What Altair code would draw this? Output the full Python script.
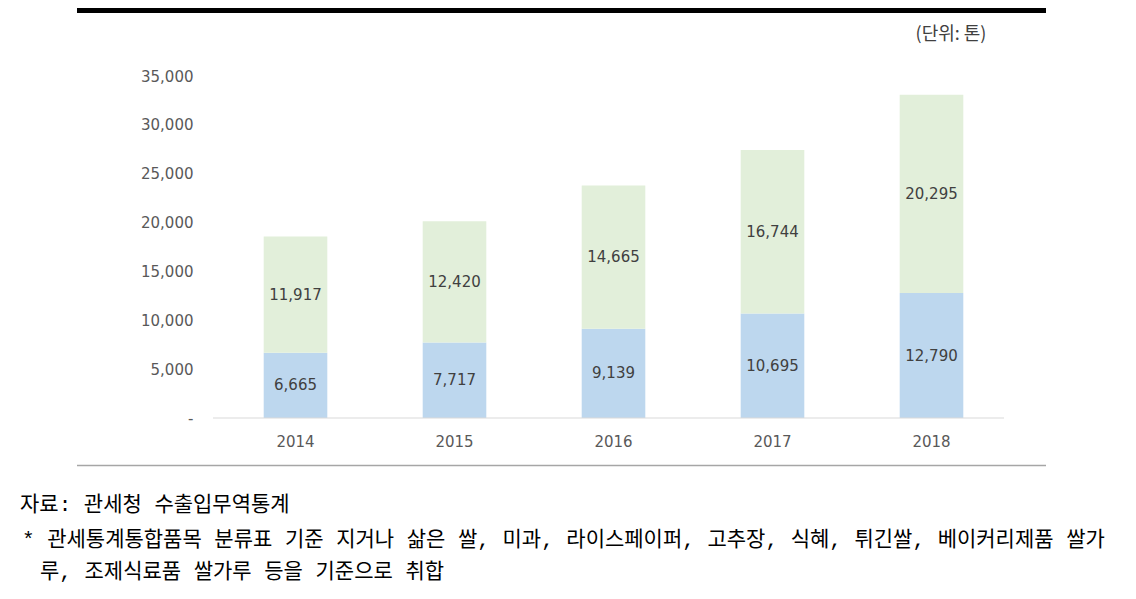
import altair as alt
import pandas as pd

years = ["2014", "2015", "2016", "2017", "2018"]
lower_values = [6665, 7717, 9139, 10695, 12790]
upper_values = [11917, 12420, 14665, 16744, 20295]
series_names = ["하단", "상단"]
series_colors = ["#BDD7EE", "#E2EFDA"]
y_ticks = [0, 5000, 10000, 15000, 20000, 25000, 30000, 35000]

unit_label = "(단위: 톤)"
notes = [
    "자료: 관세청 수출입무역통계",
    "* 관세통계통합품목 분류표 기준 지거나 삶은 쌀, 미과, 라이스페이퍼, 고추장, 식혜, 튀긴쌀, 베이커리제품 쌀가",
    "루, 조제식료품 쌀가루 등을 기준으로 취합",
]

rows = []
for i, y in enumerate(years):
    rows.append({"year": y, "series": series_names[0], "order": 0, "value": lower_values[i]})
    rows.append({"year": y, "series": series_names[1], "order": 1, "value": upper_values[i]})
df = pd.DataFrame(rows)

NUM_FONT = "DejaVu Sans"
KR_FONT = "Noto Sans CJK KR"
NOTE_FONT = "Liberation Mono, Noto Sans CJK KR"
W, H = 795, 342

base = alt.Chart(df).transform_stack(
    stack="value", groupby=["year"], as_=["y0", "y1"], sort=[alt.SortField("order")]
).transform_calculate(mid="(datum.y0 + datum.y1) / 2", lbl="format(datum.value, ',')")

x_enc = alt.X("year:N", sort=years, title=None,
              scale=alt.Scale(paddingInner=0.6, paddingOuter=0.3),
              axis=alt.Axis(labelAngle=0, labelFont=NUM_FONT, labelFontSize=15, labelColor="#595959",
                            labelPadding=16, ticks=False, domain=False, grid=False))
y_scale = alt.Scale(domain=[0, 35000], nice=False)

bars = base.mark_bar().encode(
    x=x_enc,
    y=alt.Y("y1:Q", scale=y_scale, title=None,
            axis=alt.Axis(values=y_ticks, labelExpr="datum.value == 0 ? '-' : format(datum.value, ',')",
                          labelFont=NUM_FONT, labelFontSize=15, labelColor="#595959", labelPadding=23,
                          ticks=False, domain=False, grid=False)),
    y2="y0:Q",
    color=alt.Color("series:N", scale=alt.Scale(domain=series_names, range=series_colors), legend=None),
)

labels = base.mark_text(font=NUM_FONT, fontSize=15, color="#404040").encode(
    x=alt.X("year:N", sort=years),
    y=alt.Y("mid:Q", scale=y_scale),
    text="lbl:N",
)

baseline = alt.Chart(pd.DataFrame({"v": [0]})).mark_rule(color="#D9D9D9", strokeWidth=1.2).encode(
    x=alt.value(-3), x2=alt.value(788), y=alt.Y("v:Q", scale=y_scale)
)

top_rule = alt.Chart(pd.DataFrame({"v": [0]})).mark_rule(color="#000000", strokeWidth=5).encode(
    x=alt.value(-139), x2=alt.value(830), y=alt.value(-65.5)
)
bottom_rule = alt.Chart(pd.DataFrame({"v": [0]})).mark_rule(color="#A6A6A6", strokeWidth=1.5).encode(
    x=alt.value(-139), x2=alt.value(830), y=alt.value(389.5)
)

unit = alt.Chart(pd.DataFrame({"t": [unit_label]})).mark_text(
    font=KR_FONT, fontSize=18, color="#404040", align="center", baseline="middle"
).encode(x=alt.value(735), y=alt.value(-41), text="t:N")

note_df = pd.DataFrame({"t": notes, "px": [-196, -194, -176], "py": [429, 464, 496]})
note_layer = alt.Chart(note_df).mark_text(
    font=NOTE_FONT, fontSize=21, color="#000000", align="left", baseline="middle"
).encode(x=alt.X("px:Q", scale=None), y=alt.Y("py:Q", scale=None), text="t:N")

chart = alt.layer(bars, labels, baseline, top_rule, bottom_rule, unit, note_layer).properties(
    width=W, height=H,
    autosize=alt.AutoSizeParams(type="none"),
    padding={"left": 208, "top": 68, "right": 117, "bottom": 173},
).configure(background="white", view=alt.ViewConfig(stroke=None))

chart.save("out.html", embed_options={"renderer": "svg", "actions": False})
